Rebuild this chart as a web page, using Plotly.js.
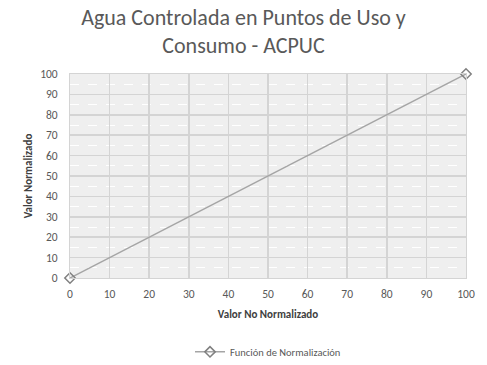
<!DOCTYPE html>
<html><head><meta charset="utf-8">
<script src="https://cdn.plot.ly/plotly-3.0.1.min.js"></script>
<style>html,body{margin:0;padding:0;background:#fff;}#c{width:487px;height:365px;}</style>
</head><body><div id="c"></div>
<script>
const xValues = [0, 100];
const yValues = [0, 100];
const seriesName = 'Función de Normalización';
const titleText = 'Agua Controlada en Puntos de Uso y<br>Consumo - ACPUC';
const xTitle = 'Valor No Normalizado';
const yTitle = 'Valor Normalizado';

const font = 'Carlito, Calibri, "Open Sans", "Liberation Sans", sans-serif';
Plotly.newPlot('c', [{
  x: xValues, y: yValues, name: seriesName, type: 'scatter', mode: 'lines+markers',
  line: {color: '#a5a5a5', width: 1.5},
  marker: {symbol: 'diamond-open', size: 8, color: '#808080', line: {color: '#808080', width: 1.5}},
  showlegend: true, cliponaxis: false
}], {
  width: 487, height: 365,
  margin: {l: 70, r: 21, t: 74, b: 87},
  paper_bgcolor: '#fff', plot_bgcolor: '#efefef',
  font: {family: font, color: '#595959', size: 11},
  title: {text: titleText, x: 0.5, xanchor: 'center', yref: 'container', y: 0.932, yanchor: 'middle',
          font: {family: font, size: 22, color: '#595959'}},
  xaxis: {range: [0, 100], dtick: 10, showgrid: true, gridcolor: '#d4d4d4', gridwidth: 1.5,
          zeroline: false, showline: true, linecolor: '#d4d4d4', mirror: true,
          ticks: 'outside', ticklen: 5, tickcolor: 'rgba(0,0,0,0)',
          tickfont: {size: 11.5, color: '#595959'},
          minor: {dtick: 5, showgrid: false},
          title: {text: '<b>' + xTitle + '</b>', font: {size: 11, color: '#404040'}, standoff: 10}},
  yaxis: {range: [0, 100], dtick: 10, showgrid: true, gridcolor: '#d4d4d4', gridwidth: 1.5,
          zeroline: false, showline: true, linecolor: '#d4d4d4', mirror: true,
          ticks: 'outside', ticklen: 9, tickcolor: 'rgba(0,0,0,0)',
          tickfont: {size: 11.5, color: '#595959'},
          minor: {dtick: 5, showgrid: true, gridcolor: '#ffffff', griddash: 'dash', gridwidth: 1},
          title: {text: '<b>' + yTitle + '</b>', font: {size: 11, color: '#404040'}, standoff: 5}},
  legend: {orientation: 'h', x: 0.5, xanchor: 'center', yref: 'container', y: 0.036, yanchor: 'middle',
           font: {size: 10.5, color: '#595959'}}
}, {displayModeBar: false, staticPlot: true});
</script></body></html>
